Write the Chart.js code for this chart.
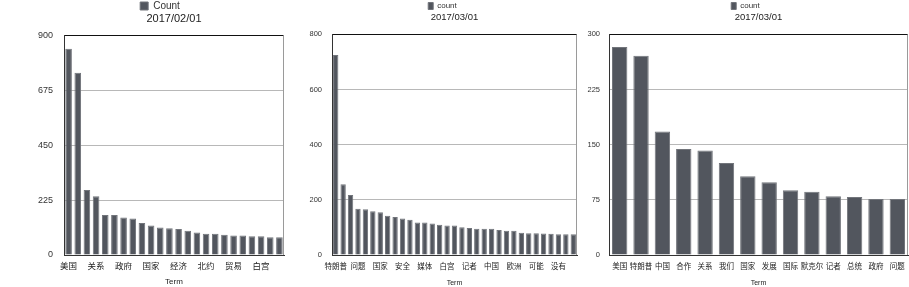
<!DOCTYPE html>
<html lang="zh">
<head>
  <meta charset="UTF-8" />
  <title>Term count</title>
  <script src="https://cdn.jsdelivr.net/npm/chart.js"></script>
  <style>
    html, body { margin: 0; padding: 0; background: #fff; }
    body { width: 909px; height: 287px; position: relative; overflow: hidden; }
    canvas { position: absolute; top: 0; }
    #c1 { left: 0px; }
    #c2 { left: 300px; }
    #c3 { left: 580px; }
  </style>
</head>
<body>
  <canvas id="c1" width="300" height="287"></canvas>
  <canvas id="c2" width="290" height="287"></canvas>
  <canvas id="c3" width="329" height="287"></canvas>
  <script>
    // 2017/02/01
    const terms1 = ['美国', '特朗普', '中国', '关系', '总统', '问题', '政府', '国际', '发展', '国家', '合作', '我们',
      '经济', '欧洲', '记者', '北约', '安全', '媒体', '贸易', '政策', '世界', '白宫', '地区', '移民'];
    const counts1 = [845, 746, 266, 241, 164, 164, 154, 149, 131, 121, 113, 110,
      106, 99, 92, 87, 87, 83, 80, 80, 77, 77, 73, 73];
    const ticks1 = [0, 225, 450, 675, 900];

    // 2017/03/01
    const terms2 = ['特朗普', '美国', '总统', '问题', '政府', '我们', '国家', '关系', '国际', '安全', '政策', '经济',
      '媒体', '发展', '移民', '白宫', '工作', '合作', '记者', '世界', '俄罗斯', '中国', '政治', '德国',
      '欧洲', '北约', '表示', '可能', '报道', '地区', '没有', '法国', '社会'];
    const counts2 = [725, 257, 218, 168, 166, 159, 155, 142, 138, 132, 128, 118,
      118, 114, 110, 107, 107, 101, 98, 95, 95, 95, 91, 88,
      88, 81, 79, 79, 78, 77, 75, 75, 75];
    const ticks2 = [0, 200, 400, 600, 800];

    // 2017/03/01 (right)
    const terms3 = ['美国', '特朗普', '中国', '合作', '关系', '我们', '国家', '发展', '国际', '默克尔', '记者', '总统', '政府', '问题'];
    const counts3 = [283, 271, 168, 144, 142, 125, 107, 99, 88, 86, 80, 79, 76, 76];
    const ticks3 = [0, 75, 150, 225, 300];

    const FONT = "'Liberation Sans', 'Noto Sans CJK SC', Arial, sans-serif";
    const BAR = '#52565e';

    // plot frame: right edge line
    const framePlugin = {
      id: 'frame',
      afterDraw(chart) {
        const a = chart.chartArea, ctx = chart.ctx;
        ctx.save();
        ctx.strokeStyle = '#9a9a9a';
        ctx.lineWidth = 1;
        ctx.beginPath();
        ctx.moveTo(Math.round(a.right) - 0.5, a.top);
        ctx.lineTo(Math.round(a.right) - 0.5, a.bottom);
        ctx.stroke();
        ctx.restore();
      }
    };

    function makeChart(id, o) {
      const max = o.yTicks[o.yTicks.length - 1];
      return new Chart(document.getElementById(id), {
        type: 'bar',
        data: {
          labels: o.labels,
          datasets: [{
            label: o.legend,
            data: o.data,
            backgroundColor: BAR,
            borderColor: '#72757b',
            borderWidth: 1,
            categoryPercentage: 1,
            barPercentage: 0.72
          }]
        },
        options: {
          responsive: false,
          animation: false,
          layout: { padding: { left: o.pl, right: o.pr, top: 0, bottom: 0 } },
          plugins: {
            legend: {
              weight: 3000,
              fullSize: true,
              labels: {
                boxWidth: o.box[0], boxHeight: o.box[1], padding: o.legendPad,
                color: '#333', font: { family: FONT, size: o.fs.legend }
              }
            },
            title: {
              display: true,
              text: o.title,
              weight: 500,
              fullSize: false,
              color: '#222',
              font: { family: FONT, size: o.fs.title, weight: 'normal' },
              padding: { top: o.titlePad[0], bottom: o.titlePad[1] }
            },
            tooltip: { enabled: false }
          },
          scales: {
            x: {
              grid: { display: false },
              border: { display: true, color: '#333', width: 1 },
              ticks: {
                autoSkip: false, maxRotation: 0, minRotation: 0, padding: -1,
                color: '#222', font: { family: FONT, size: o.fs.x },
                callback: function (v, i) { return i % o.every === 0 ? this.getLabelForValue(v) : ''; }
              },
              title: {
                display: true, text: 'Term', color: '#222',
                font: { family: FONT, size: o.fs.term }, padding: { top: 0, bottom: 0 }
              },
              afterFit(s) { s.height = 32; }
            },
            y: {
              min: 0, max: max,
              afterBuildTicks(s) { s.ticks = o.yTicks.map(v => ({ value: v })); },
              grid: {
                drawTicks: false,
                color: c => c.tick.value === max ? '#111' : (c.tick.value === 0 ? 'rgba(0,0,0,0)' : '#b8b8b8'),
                lineWidth: 1
              },
              border: { display: true, color: '#333', width: 1 },
              ticks: { padding: o.yPad, color: '#333', font: { family: FONT, size: o.fs.y } },
              afterFit(s) { s.width = o.yw; }
            }
          }
        },
        plugins: [framePlugin]
      });
    }

    makeChart('c1', {
      labels: terms1, data: counts1, yTicks: ticks1, legend: 'Count', title: '2017/02/01',
      pl: 36, pr: 16, yw: 28, yPad: 11, every: 3, box: [8, 8], legendPad: 1, titlePad: [-9, 10],
      fs: { legend: 10, title: 11, x: 8.5, y: 9, term: 8 }
    });
    makeChart('c2', {
      labels: terms2, data: counts2, yTicks: ticks2, legend: 'count', title: '2017/03/01',
      pl: 8, pr: 13, yw: 24, yPad: 10, every: 3, box: [5, 7], legendPad: 2, titlePad: [-8, 11],
      fs: { legend: 8, title: 9.5, x: 7.5, y: 7.5, term: 7 }
    });
    makeChart('c3', {
      labels: terms3, data: counts3, yTicks: ticks3, legend: 'count', title: '2017/03/01',
      pl: 3, pr: 1, yw: 26, yPad: 9, every: 1, box: [5, 7], legendPad: 2, titlePad: [-8, 11],
      fs: { legend: 8, title: 9.5, x: 7.5, y: 7.5, term: 7 }
    });
  </script>
</body>
</html>
